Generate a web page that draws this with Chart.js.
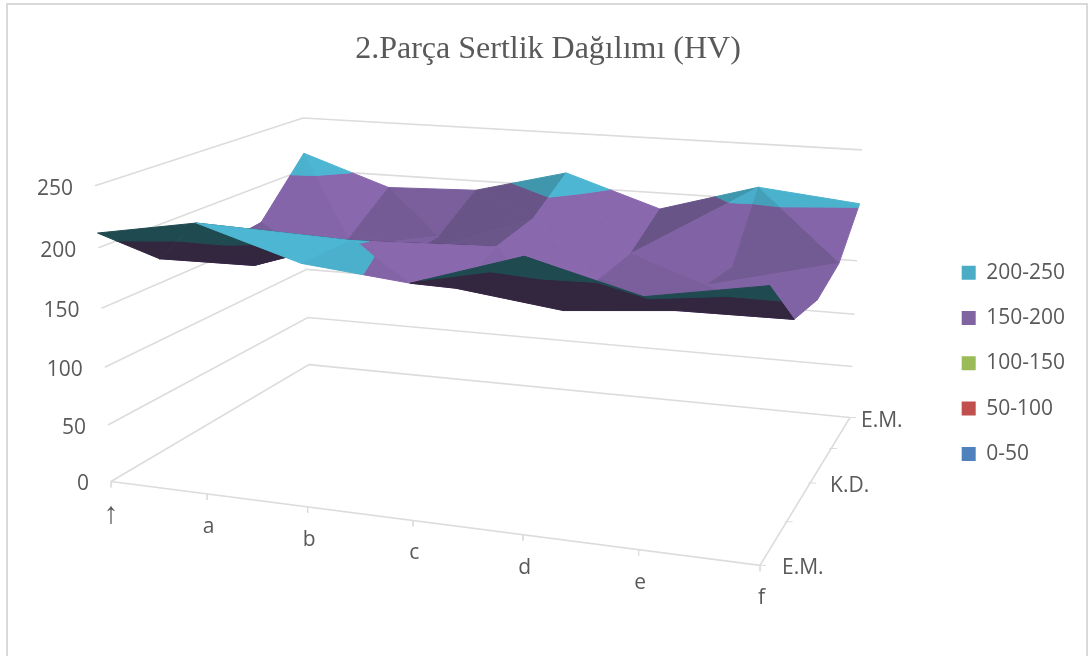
<!DOCTYPE html>
<html>
<head>
  <title>2.Parça Sertlik Dağılımı (HV)</title>
  <script src="https://cdn.jsdelivr.net/npm/chart.js@4"></script>
  <style>
    body { margin: 0; background: #fff; }
    canvas { display: block; }
  </style>
</head>
<body>
  <canvas id="chartCanvas" width="1089" height="656"></canvas>

  <script>
    // hardness values, one list per depth line, front to back
    const categories = ['↑', 'a', 'b', 'c', 'd', 'e', 'f'];
    const depthLabels = ['E.M.', '', 'K.D.', '', 'E.M.'];
    const valueTicks = [0, 50, 100, 150, 200, 250];
    const row1 = [212, 228, 204, 197, 227, 205, 223];
    const row2 = [171, 173, 202, 170, 160, 169, 171];
    const row3 = [160, 165, 165, 184, 163, 166, 162];
    const row4 = [166, 157, 166, 189, 164, 159, 170];
    const row5 = [216, 188, 191, 213, 185, 211, 202];
    const bandLabels = ['200-250', '150-200', '100-150', '50-100', '0-50'];
    const bandColors = ['#4BACC6', '#8064A2', '#9BBB59', '#C0504D', '#4F81BD'];

    const rows = [row1, row2, row3, row4, row5];

    // camera: box corners on screen, floor and top, order front-left, front-right, back-right, back-left
    const floorQuad = [[111, 482], [760, 566], [850, 418], [309, 365]];
    const topQuad = [[95, 186], [771, 250], [862, 150], [303, 118]];
    const zMax = 250;

    function quadMap(q) {
      const [p0, p1, p2, p3] = q;
      const dx1 = p1[0] - p2[0], dy1 = p1[1] - p2[1];
      const dx2 = p3[0] - p2[0], dy2 = p3[1] - p2[1];
      const sx = p0[0] - p1[0] + p2[0] - p3[0], sy = p0[1] - p1[1] + p2[1] - p3[1];
      const d = dx1 * dy2 - dy1 * dx2;
      const g = (sx * dy2 - sy * dx2) / d;
      const h = (dx1 * sy - dy1 * sx) / d;
      return function (u, v) {
        const w = g * u + h * v + 1;
        return [
          ((p1[0] - p0[0] + g * p1[0]) * u + (p3[0] - p0[0] + h * p3[0]) * v + p0[0]) / w,
          ((p1[1] - p0[1] + g * p1[1]) * u + (p3[1] - p0[1] + h * p3[1]) * v + p0[1]) / w
        ];
      };
    }
    const floorMap = quadMap(floorQuad);

    function fraction(a, b, c) {
      return Math.hypot(c[0] - a[0], c[1] - a[1]) / Math.hypot(b[0] - a[0], b[1] - a[1]);
    }

    // top of the box = floor point + corner displacement blended by on-screen position
    const lifts = floorQuad.map((p, i) => [topQuad[i][0] - p[0], topQuad[i][1] - p[1]]);
    function project(u, v, z) {
      const t = z / zMax;
      const s = t / (1 + 0.06 * (1 - t));
      const a = floorMap(u, v);
      const fu = u === 0 ? 0 : fraction(floorMap(0, v), floorMap(1, v), a);
      const fv = v === 0 ? 0 : fraction(floorMap(u, 0), floorMap(u, 1), a);
      const lift = [0, 1].map(k =>
        lifts[0][k] * (1 - fu) * (1 - fv) + lifts[1][k] * fu * (1 - fv) +
        lifts[2][k] * fu * fv + lifts[3][k] * (1 - fu) * fv);
      return { x: a[0] + lift[0] * s, y: a[1] + lift[1] * s };
    }

    function clipBelow(poly, level, keepAbove) {
      const out = [];
      for (let i = 0; i < poly.length; i++) {
        const a = poly[i], b = poly[(i + 1) % poly.length];
        const aIn = keepAbove ? a[2] >= level : a[2] <= level;
        const bIn = keepAbove ? b[2] >= level : b[2] <= level;
        if (aIn) out.push(a);
        if (aIn !== bIn) {
          const f = (level - a[2]) / (b[2] - a[2]);
          out.push([a[0] + (b[0] - a[0]) * f, a[1] + (b[1] - a[1]) * f, level]);
        }
      }
      return out;
    }

    function mix(c1, c2, f) {
      return 'rgb(' + c1.map((c, i) => Math.round(c + (c2[i] - c) * f)).join(',') + ')';
    }

    // facet colours per band: [dim front, bright front, underside]
    const shades = {
      200: [[64, 150, 173], [77, 182, 211], [31, 74, 80]],
      150: [[104, 84, 135], [137, 104, 174], [51, 38, 63]]
    };

    function facetColor(tri, band) {
      const a = tri.map(p => project(p[0], p[1], p[2]));
      const area = (a[1].x - a[0].x) * (a[2].y - a[0].y) - (a[2].x - a[0].x) * (a[1].y - a[0].y);
      // slope along the category direction decides brightness
      const [p, q, r] = tri;
      const e1 = [q[0] - p[0], q[1] - p[1], q[2] - p[2]];
      const e2 = [r[0] - p[0], r[1] - p[1], r[2] - p[2]];
      const det = e1[0] * e2[1] - e1[1] * e2[0];
      const dzdu = (e1[2] * e2[1] - e2[2] * e1[1]) / det / 6;
      const set = shades[band] || shades[150];
      if (area * det > 0) {
        return mix(set[2], set[2], 0);
      }
      const f = Math.max(0, Math.min(1, 0.62 - dzdu * 0.028));
      return mix(set[0], set[1], f);
    }

    function buildFacets() {
      const facets = [];
      const nu = categories.length - 1, nv = rows.length - 1;
      for (let j = nv - 1; j >= 0; j--) {
        for (let i = 0; i < nu; i++) {
          const c = (a, b) => [(i + a) / nu, (j + b) / nv, rows[j + b][i + a]];
          const d1 = rows[j][i] + rows[j + 1][i + 1];
          const d2 = rows[j][i + 1] + rows[j + 1][i];
          // split along the higher diagonal
          const tris = d1 >= d2
            ? [[c(0, 0), c(1, 0), c(1, 1)], [c(0, 0), c(1, 1), c(0, 1)]]
            : [[c(0, 0), c(1, 0), c(0, 1)], [c(1, 0), c(1, 1), c(0, 1)]];
          tris.forEach(tri => facets.push({ tri, depth: (tri[0][1] + tri[1][1] + tri[2][1]) / 3 }));
        }
      }
      facets.sort((a, b) => b.depth - a.depth);
      return facets;
    }

    const surfaceSets = [];
    buildFacets().forEach(f => {
      for (let lo = 0; lo < zMax; lo += 50) {
        let poly = clipBelow(f.tri, lo, true);
        poly = poly.length ? clipBelow(poly, lo + 50, false) : poly;
        if (poly.length < 3) continue;
        const color = facetColor(f.tri, lo);
        const pts = poly.map(p => project(p[0], p[1], p[2]));
        pts.push(pts[0]);
        surfaceSets.push({
          data: pts, showLine: true, fill: 'shape', pointRadius: 0, tension: 0,
          backgroundColor: color, borderColor: color, borderWidth: 1, clip: false
        });
      }
    });

    function gridSet(pts, width) {
      return {
        data: pts, showLine: true, fill: false, pointRadius: 0, tension: 0,
        borderColor: '#DCDCDC', borderWidth: width || 1.6, clip: false
      };
    }

    const gridSets = [];
    valueTicks.forEach(z => {
      gridSets.push(gridSet([project(0, 0, z), project(0, 1, z), project(1, 1, z)]));
    });
    gridSets.push(gridSet([project(0, 0, 0), project(1, 0, 0), project(1, 1, 0)]));
    categories.forEach((c, i) => {
      const p = project(i / (categories.length - 1), 0, 0);
      gridSets.push(gridSet([p, { x: p.x, y: p.y + 6 }], 1));
    });
    depthLabels.forEach((c, i) => {
      const p = project(1, i / (depthLabels.length - 1), 0);
      gridSets.push(gridSet([{ x: p.x - 2, y: p.y }, { x: p.x + 6, y: p.y }], 1));
    });

    const frameAndLabels = {
      id: 'frameAndLabels',
      beforeDraw(chart) {
        const ctx = chart.ctx;
        ctx.save();
        ctx.strokeStyle = '#D9D9D9';
        ctx.lineWidth = 2;
        ctx.strokeRect(7, 4, 1080, 670);
        ctx.restore();
      },
      afterDraw(chart) {
        const ctx = chart.ctx;
        const sx = chart.scales.x, sy = chart.scales.y;
        const labelFont = '21px "Open Sans"';
        ctx.save();
        ctx.fillStyle = '#595959';
        ctx.font = labelFont;
        ctx.textBaseline = 'middle';
        ctx.textAlign = 'right';
        valueTicks.forEach(z => {
          const p = project(0, 0, z);
          ctx.fillText(String(z), sx.getPixelForValue(p.x) - 22, sy.getPixelForValue(p.y) + 3);
        });
        ctx.textAlign = 'center';
        categories.forEach((c, i) => {
          const p = project(i / (categories.length - 1), 0, 0);
          // the arrow glyph is small in this font
          ctx.font = i === 0 ? '30px "Liberation Sans"' : labelFont;
          ctx.fillText(c, sx.getPixelForValue(p.x) + (i === 0 ? 0 : 1.5), sy.getPixelForValue(p.y) + 33);
        });
        ctx.font = labelFont;
        ctx.textAlign = 'left';
        const gaps = [22, 0, 20, 0, 11];
        depthLabels.forEach((c, i) => {
          const p = project(1, i / (depthLabels.length - 1), 0);
          ctx.fillText(c, sx.getPixelForValue(p.x) + gaps[i], sy.getPixelForValue(p.y) + 3);
        });
        ctx.restore();
      }
    };

    const chart = new Chart(document.getElementById('chartCanvas').getContext('2d'), {
      type: 'scatter',
      // first dataset is painted last, so the front facets come first
      data: { datasets: surfaceSets.slice().reverse().concat(gridSets) },
      plugins: [frameAndLabels],
      options: {
        responsive: false,
        animation: false,
        layout: { padding: { left: 21, right: 14 } },
        scales: {
          x: { type: 'linear', display: false, min: 0, max: 1000 },
          y: { type: 'linear', display: false, reverse: true, min: 0, max: 656 }
        },
        plugins: {
          tooltip: { enabled: false },
          title: {
            display: true,
            text: '2.Parça Sertlik Dağılımı (HV)',
            color: '#595959',
            font: { family: '"Liberation Serif"', size: 32, weight: 'normal' },
            padding: { top: 30, bottom: 3 }
          },
          legend: {
            position: 'right',
            fullSize: false,
            onClick: null,
            labels: {
              boxWidth: 14,
              boxHeight: 14,
              padding: 24.3,
              color: '#595959',
              font: { family: '"Open Sans"', size: 21 },
              generateLabels() {
                return bandLabels.map((t, i) => ({
                  text: t, fillStyle: bandColors[i], strokeStyle: bandColors[i], lineWidth: 0, fontColor: '#595959'
                }));
              }
            }
          }
        }
      }
    });

    // make the scales read in canvas pixels once the layout is known
    chart.options.scales.x.min = chart.chartArea.left;
    chart.options.scales.x.max = chart.chartArea.right;
    chart.options.scales.y.min = chart.chartArea.top;
    chart.options.scales.y.max = chart.chartArea.bottom;
    chart.update('none');
  </script>
</body>
</html>
